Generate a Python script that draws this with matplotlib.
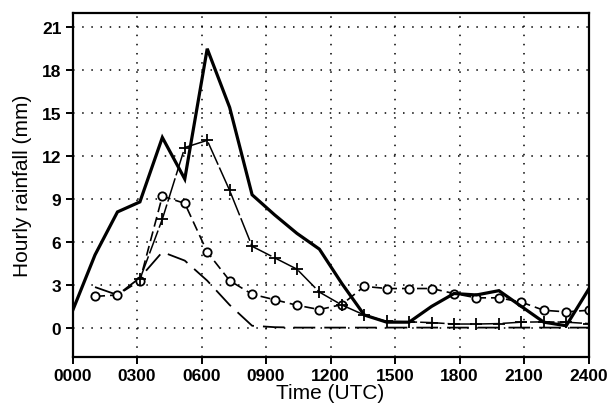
import numpy as np
import matplotlib
matplotlib.use("Agg")
import matplotlib.pyplot as plt
from matplotlib import font_manager

nan = np.nan
# 24 hourly values plotted across the 0-24 h axis
solid = [1.2, 5.1, 8.1, 8.8, 13.3, 10.4, 19.5, 15.4, 9.3, 7.9, 6.6, 5.5,
         3.1, 0.9, 0.4, 0.4, 1.5, 2.4, 2.3, 2.6, 1.5, 0.4, 0.15, 2.7]
plus = [nan, nan, nan, 3.4, 7.6, 12.6, 13.1, 9.6, 5.7, 4.9, 4.1, 2.5,
        1.6, 0.9, 0.45, 0.42, 0.37, 0.27, 0.27, 0.3, 0.4, 0.42, 0.4, 0.3]
circle = [nan, 2.2, 2.3, 3.3, 9.2, 8.7, 5.3, 3.3, 2.35, 1.97, 1.58, 1.28,
          1.63, 2.9, 2.75, 2.75, 2.75, 2.4, 2.1, 2.1, 1.8, 1.23, 1.12, 1.23]
longdash = [nan, 2.85, 2.3, 3.5, 5.3, 4.7, 3.3, 1.6, 0.15, 0.05, 0.02, 0.02,
            0.02, 0.02, 0.02, 0.02, 0.02, 0.02, 0.02, 0.02, 0.02, 0.02, 0.02, 0.02]

xtick_vals = [0, 3, 6, 9, 12, 15, 18, 21, 24]
xtick_labels = ['0000', '0300', '0600', '0900', '1200', '1500', '1800', '2100', '2400']
ytick_vals = [0, 3, 6, 9, 12, 15, 18, 21]

avail = {f.name for f in font_manager.fontManager.ttflist}
tick_font = 'Liberation Sans Narrow' if 'Liberation Sans Narrow' in avail else 'Liberation Sans'

x = np.linspace(0, 24, len(solid))

fig = plt.figure(figsize=(6.1, 4.1), dpi=100)
ax = fig.add_axes([0.119, 0.128, 0.846, 0.838])

ax.plot(x, longdash, color='black', lw=1.3, dashes=(12, 5))
ax.plot(x, circle, color='black', lw=1.2, dashes=(6, 3), marker='o', ms=6,
        mfc='white', mec='black', mew=1.3)
ax.plot(x, plus, color='black', lw=1.1, dashes=(16, 2), marker='+', ms=8, mew=1.3)
ax.plot(x, solid, color='black', lw=2.3, solid_joinstyle='miter')

ax.set_xlim(0, 24)
ax.set_ylim(-2, 22)
ax.set_xticks(xtick_vals)
ax.set_xticklabels(xtick_labels)
ax.set_yticks(ytick_vals)
ax.grid(True, color='black', linestyle=(0, (1, 5)), lw=1.1)

for s in ax.spines.values():
    s.set_linewidth(1.6)
ax.tick_params(direction='out', length=5, width=1.4, pad=3)
for lab in ax.get_xticklabels() + ax.get_yticklabels():
    lab.set_fontfamily(tick_font)
    lab.set_fontweight('bold')
    lab.set_fontsize(12.5)

ax.set_xlabel('Time (UTC)', fontsize=15, family='Liberation Sans', color='black', labelpad=0)
ax.set_ylabel('Hourly rainfall (mm)', fontsize=15, family='Liberation Sans', color='black', labelpad=7)

fig.savefig('out.png', dpi=100)
